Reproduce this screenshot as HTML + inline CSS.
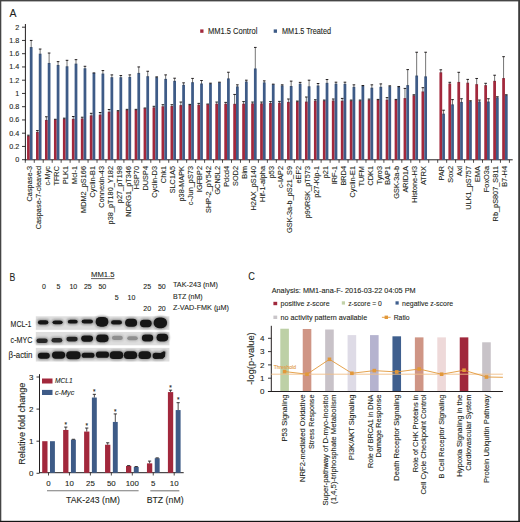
<!DOCTYPE html>
<html><head><meta charset="utf-8"><style>
html,body{margin:0;padding:0;background:#fff;width:520px;height:522px;overflow:hidden}
svg{display:block;font-family:"Liberation Sans", sans-serif}
text{stroke-width:0.1px}
</style></head><body>
<svg width="520" height="522" viewBox="0 0 520 522">
<rect width="520" height="522" fill="#fff"/>
<text x="9.50" y="16.60" font-size="11" text-anchor="start" fill="#231f20" stroke="#231f20" textLength="7.00" lengthAdjust="spacingAndGlyphs" >A</text>
<line x1="25.40" y1="24.00" x2="25.40" y2="160.30" stroke="#231f20" stroke-width="1"/>
<line x1="22.00" y1="159.70" x2="25.40" y2="159.70" stroke="#231f20" stroke-width="0.9"/>
<text x="19.20" y="162.20" font-size="7.2" text-anchor="end" fill="#231f20" stroke="#231f20" >0</text>
<line x1="22.00" y1="146.45" x2="25.40" y2="146.45" stroke="#231f20" stroke-width="0.9"/>
<text x="19.20" y="148.95" font-size="7.2" text-anchor="end" fill="#231f20" stroke="#231f20" >0.2</text>
<line x1="22.00" y1="133.20" x2="25.40" y2="133.20" stroke="#231f20" stroke-width="0.9"/>
<text x="19.20" y="135.70" font-size="7.2" text-anchor="end" fill="#231f20" stroke="#231f20" >0.4</text>
<line x1="22.00" y1="119.95" x2="25.40" y2="119.95" stroke="#231f20" stroke-width="0.9"/>
<text x="19.20" y="122.45" font-size="7.2" text-anchor="end" fill="#231f20" stroke="#231f20" >0.6</text>
<line x1="22.00" y1="106.70" x2="25.40" y2="106.70" stroke="#231f20" stroke-width="0.9"/>
<text x="19.20" y="109.20" font-size="7.2" text-anchor="end" fill="#231f20" stroke="#231f20" >0.8</text>
<line x1="22.00" y1="93.45" x2="25.40" y2="93.45" stroke="#231f20" stroke-width="0.9"/>
<text x="19.20" y="95.95" font-size="7.2" text-anchor="end" fill="#231f20" stroke="#231f20" >1</text>
<line x1="22.00" y1="80.20" x2="25.40" y2="80.20" stroke="#231f20" stroke-width="0.9"/>
<text x="19.20" y="82.70" font-size="7.2" text-anchor="end" fill="#231f20" stroke="#231f20" >1.2</text>
<line x1="22.00" y1="66.95" x2="25.40" y2="66.95" stroke="#231f20" stroke-width="0.9"/>
<text x="19.20" y="69.45" font-size="7.2" text-anchor="end" fill="#231f20" stroke="#231f20" >1.4</text>
<line x1="22.00" y1="53.70" x2="25.40" y2="53.70" stroke="#231f20" stroke-width="0.9"/>
<text x="19.20" y="56.20" font-size="7.2" text-anchor="end" fill="#231f20" stroke="#231f20" >1.6</text>
<line x1="22.00" y1="40.45" x2="25.40" y2="40.45" stroke="#231f20" stroke-width="0.9"/>
<text x="19.20" y="42.95" font-size="7.2" text-anchor="end" fill="#231f20" stroke="#231f20" >1.8</text>
<line x1="22.00" y1="27.20" x2="25.40" y2="27.20" stroke="#231f20" stroke-width="0.9"/>
<text x="19.20" y="29.70" font-size="7.2" text-anchor="end" fill="#231f20" stroke="#231f20" >2</text>
<line x1="24.90" y1="159.80" x2="512.70" y2="159.80" stroke="#231f20" stroke-width="1"/>
<line x1="25.30" y1="159.80" x2="25.30" y2="162.80" stroke="#231f20" stroke-width="0.8"/>
<line x1="34.27" y1="159.80" x2="34.27" y2="162.80" stroke="#231f20" stroke-width="0.8"/>
<line x1="43.23" y1="159.80" x2="43.23" y2="162.80" stroke="#231f20" stroke-width="0.8"/>
<line x1="52.20" y1="159.80" x2="52.20" y2="162.80" stroke="#231f20" stroke-width="0.8"/>
<line x1="61.16" y1="159.80" x2="61.16" y2="162.80" stroke="#231f20" stroke-width="0.8"/>
<line x1="70.12" y1="159.80" x2="70.12" y2="162.80" stroke="#231f20" stroke-width="0.8"/>
<line x1="79.09" y1="159.80" x2="79.09" y2="162.80" stroke="#231f20" stroke-width="0.8"/>
<line x1="88.05" y1="159.80" x2="88.05" y2="162.80" stroke="#231f20" stroke-width="0.8"/>
<line x1="97.02" y1="159.80" x2="97.02" y2="162.80" stroke="#231f20" stroke-width="0.8"/>
<line x1="105.98" y1="159.80" x2="105.98" y2="162.80" stroke="#231f20" stroke-width="0.8"/>
<line x1="114.95" y1="159.80" x2="114.95" y2="162.80" stroke="#231f20" stroke-width="0.8"/>
<line x1="123.91" y1="159.80" x2="123.91" y2="162.80" stroke="#231f20" stroke-width="0.8"/>
<line x1="132.88" y1="159.80" x2="132.88" y2="162.80" stroke="#231f20" stroke-width="0.8"/>
<line x1="141.84" y1="159.80" x2="141.84" y2="162.80" stroke="#231f20" stroke-width="0.8"/>
<line x1="150.81" y1="159.80" x2="150.81" y2="162.80" stroke="#231f20" stroke-width="0.8"/>
<line x1="159.78" y1="159.80" x2="159.78" y2="162.80" stroke="#231f20" stroke-width="0.8"/>
<line x1="168.74" y1="159.80" x2="168.74" y2="162.80" stroke="#231f20" stroke-width="0.8"/>
<line x1="177.71" y1="159.80" x2="177.71" y2="162.80" stroke="#231f20" stroke-width="0.8"/>
<line x1="186.67" y1="159.80" x2="186.67" y2="162.80" stroke="#231f20" stroke-width="0.8"/>
<line x1="195.64" y1="159.80" x2="195.64" y2="162.80" stroke="#231f20" stroke-width="0.8"/>
<line x1="204.60" y1="159.80" x2="204.60" y2="162.80" stroke="#231f20" stroke-width="0.8"/>
<line x1="213.56" y1="159.80" x2="213.56" y2="162.80" stroke="#231f20" stroke-width="0.8"/>
<line x1="222.53" y1="159.80" x2="222.53" y2="162.80" stroke="#231f20" stroke-width="0.8"/>
<line x1="231.50" y1="159.80" x2="231.50" y2="162.80" stroke="#231f20" stroke-width="0.8"/>
<line x1="240.46" y1="159.80" x2="240.46" y2="162.80" stroke="#231f20" stroke-width="0.8"/>
<line x1="249.43" y1="159.80" x2="249.43" y2="162.80" stroke="#231f20" stroke-width="0.8"/>
<line x1="258.39" y1="159.80" x2="258.39" y2="162.80" stroke="#231f20" stroke-width="0.8"/>
<line x1="267.36" y1="159.80" x2="267.36" y2="162.80" stroke="#231f20" stroke-width="0.8"/>
<line x1="276.32" y1="159.80" x2="276.32" y2="162.80" stroke="#231f20" stroke-width="0.8"/>
<line x1="285.29" y1="159.80" x2="285.29" y2="162.80" stroke="#231f20" stroke-width="0.8"/>
<line x1="294.25" y1="159.80" x2="294.25" y2="162.80" stroke="#231f20" stroke-width="0.8"/>
<line x1="303.22" y1="159.80" x2="303.22" y2="162.80" stroke="#231f20" stroke-width="0.8"/>
<line x1="312.18" y1="159.80" x2="312.18" y2="162.80" stroke="#231f20" stroke-width="0.8"/>
<line x1="321.14" y1="159.80" x2="321.14" y2="162.80" stroke="#231f20" stroke-width="0.8"/>
<line x1="330.11" y1="159.80" x2="330.11" y2="162.80" stroke="#231f20" stroke-width="0.8"/>
<line x1="339.07" y1="159.80" x2="339.07" y2="162.80" stroke="#231f20" stroke-width="0.8"/>
<line x1="348.04" y1="159.80" x2="348.04" y2="162.80" stroke="#231f20" stroke-width="0.8"/>
<line x1="357.00" y1="159.80" x2="357.00" y2="162.80" stroke="#231f20" stroke-width="0.8"/>
<line x1="365.97" y1="159.80" x2="365.97" y2="162.80" stroke="#231f20" stroke-width="0.8"/>
<line x1="374.94" y1="159.80" x2="374.94" y2="162.80" stroke="#231f20" stroke-width="0.8"/>
<line x1="383.90" y1="159.80" x2="383.90" y2="162.80" stroke="#231f20" stroke-width="0.8"/>
<line x1="392.87" y1="159.80" x2="392.87" y2="162.80" stroke="#231f20" stroke-width="0.8"/>
<line x1="401.83" y1="159.80" x2="401.83" y2="162.80" stroke="#231f20" stroke-width="0.8"/>
<line x1="410.80" y1="159.80" x2="410.80" y2="162.80" stroke="#231f20" stroke-width="0.8"/>
<line x1="419.76" y1="159.80" x2="419.76" y2="162.80" stroke="#231f20" stroke-width="0.8"/>
<line x1="428.73" y1="159.80" x2="428.73" y2="162.80" stroke="#231f20" stroke-width="0.8"/>
<line x1="437.69" y1="159.80" x2="437.69" y2="162.80" stroke="#231f20" stroke-width="0.8"/>
<line x1="446.66" y1="159.80" x2="446.66" y2="162.80" stroke="#231f20" stroke-width="0.8"/>
<line x1="455.62" y1="159.80" x2="455.62" y2="162.80" stroke="#231f20" stroke-width="0.8"/>
<line x1="464.58" y1="159.80" x2="464.58" y2="162.80" stroke="#231f20" stroke-width="0.8"/>
<line x1="473.55" y1="159.80" x2="473.55" y2="162.80" stroke="#231f20" stroke-width="0.8"/>
<line x1="482.51" y1="159.80" x2="482.51" y2="162.80" stroke="#231f20" stroke-width="0.8"/>
<line x1="491.48" y1="159.80" x2="491.48" y2="162.80" stroke="#231f20" stroke-width="0.8"/>
<line x1="500.44" y1="159.80" x2="500.44" y2="162.80" stroke="#231f20" stroke-width="0.8"/>
<line x1="509.41" y1="159.80" x2="509.41" y2="162.80" stroke="#231f20" stroke-width="0.8"/>
<rect x="27.05" y="135.85" width="2.75" height="23.95" fill="#a2283c" />
<rect x="29.80" y="47.07" width="2.75" height="112.72" fill="#3e5b87" />
<line x1="28.43" y1="136.85" x2="28.43" y2="135.19" stroke="#3a3a3a" stroke-width="0.7"/>
<line x1="27.12" y1="135.19" x2="29.73" y2="135.19" stroke="#231f20" stroke-width="1.0"/>
<line x1="31.18" y1="48.07" x2="31.18" y2="40.45" stroke="#3a3a3a" stroke-width="0.7"/>
<line x1="29.88" y1="40.45" x2="32.48" y2="40.45" stroke="#231f20" stroke-width="1.0"/>
<text x="31.88" y="166.00" font-size="7.35" text-anchor="end" fill="#231f20" stroke="#231f20" transform="rotate(-90 31.88 166.00)">Caspase-3</text>
<rect x="36.02" y="131.88" width="2.75" height="27.92" fill="#a2283c" />
<rect x="38.77" y="53.70" width="2.75" height="106.10" fill="#3e5b87" />
<line x1="37.39" y1="132.88" x2="37.39" y2="130.55" stroke="#3a3a3a" stroke-width="0.7"/>
<line x1="36.09" y1="130.55" x2="38.69" y2="130.55" stroke="#231f20" stroke-width="1.0"/>
<line x1="40.14" y1="54.70" x2="40.14" y2="49.06" stroke="#3a3a3a" stroke-width="0.7"/>
<line x1="38.84" y1="49.06" x2="41.44" y2="49.06" stroke="#231f20" stroke-width="1.0"/>
<text x="40.85" y="166.00" font-size="7.35" text-anchor="end" fill="#231f20" stroke="#231f20" transform="rotate(-90 40.85 166.00)">Caspase-7-cleaved</text>
<rect x="44.98" y="119.95" width="2.75" height="39.85" fill="#a2283c" />
<rect x="47.73" y="62.97" width="2.75" height="96.82" fill="#3e5b87" />
<line x1="46.36" y1="120.95" x2="46.36" y2="116.77" stroke="#3a3a3a" stroke-width="0.7"/>
<line x1="45.06" y1="116.77" x2="47.66" y2="116.77" stroke="#231f20" stroke-width="1.0"/>
<line x1="49.11" y1="63.97" x2="49.11" y2="53.04" stroke="#3a3a3a" stroke-width="0.7"/>
<line x1="47.81" y1="53.04" x2="50.41" y2="53.04" stroke="#231f20" stroke-width="1.0"/>
<text x="49.81" y="166.00" font-size="7.35" text-anchor="end" fill="#231f20" stroke="#231f20" transform="rotate(-90 49.81 166.00)">c-Myc</text>
<rect x="53.95" y="119.42" width="2.75" height="40.38" fill="#a2283c" />
<rect x="56.70" y="64.96" width="2.75" height="94.84" fill="#3e5b87" />
<line x1="54.02" y1="119.29" x2="56.62" y2="119.29" stroke="#231f20" stroke-width="1.0"/>
<line x1="58.07" y1="65.96" x2="58.07" y2="61.65" stroke="#3a3a3a" stroke-width="0.7"/>
<line x1="56.77" y1="61.65" x2="59.37" y2="61.65" stroke="#231f20" stroke-width="1.0"/>
<text x="58.78" y="166.00" font-size="7.35" text-anchor="end" fill="#231f20" stroke="#231f20" transform="rotate(-90 58.78 166.00)">TFRC</text>
<rect x="62.91" y="118.69" width="2.75" height="41.11" fill="#a2283c" />
<rect x="65.66" y="66.29" width="2.75" height="93.51" fill="#3e5b87" />
<line x1="64.28" y1="119.69" x2="64.28" y2="118.16" stroke="#3a3a3a" stroke-width="0.7"/>
<line x1="62.98" y1="118.16" x2="65.58" y2="118.16" stroke="#231f20" stroke-width="1.0"/>
<line x1="67.03" y1="67.29" x2="67.03" y2="60.32" stroke="#3a3a3a" stroke-width="0.7"/>
<line x1="65.73" y1="60.32" x2="68.33" y2="60.32" stroke="#231f20" stroke-width="1.0"/>
<text x="67.74" y="166.00" font-size="7.35" text-anchor="end" fill="#231f20" stroke="#231f20" transform="rotate(-90 67.74 166.00)">PLK1</text>
<rect x="71.88" y="118.89" width="2.75" height="40.91" fill="#a2283c" />
<rect x="74.62" y="63.64" width="2.75" height="96.16" fill="#3e5b87" />
<line x1="73.25" y1="119.89" x2="73.25" y2="116.50" stroke="#3a3a3a" stroke-width="0.7"/>
<line x1="71.95" y1="116.50" x2="74.55" y2="116.50" stroke="#231f20" stroke-width="1.0"/>
<line x1="76.00" y1="64.64" x2="76.00" y2="59.66" stroke="#3a3a3a" stroke-width="0.7"/>
<line x1="74.70" y1="59.66" x2="77.30" y2="59.66" stroke="#231f20" stroke-width="1.0"/>
<text x="76.71" y="166.00" font-size="7.35" text-anchor="end" fill="#231f20" stroke="#231f20" transform="rotate(-90 76.71 166.00)">Mcl-1</text>
<rect x="80.84" y="118.49" width="2.75" height="41.31" fill="#a2283c" />
<rect x="83.59" y="68.27" width="2.75" height="91.52" fill="#3e5b87" />
<line x1="82.22" y1="119.49" x2="82.22" y2="117.23" stroke="#3a3a3a" stroke-width="0.7"/>
<line x1="80.92" y1="117.23" x2="83.52" y2="117.23" stroke="#231f20" stroke-width="1.0"/>
<line x1="84.97" y1="69.27" x2="84.97" y2="66.29" stroke="#3a3a3a" stroke-width="0.7"/>
<line x1="83.67" y1="66.29" x2="86.27" y2="66.29" stroke="#231f20" stroke-width="1.0"/>
<text x="85.67" y="166.00" font-size="7.35" text-anchor="end" fill="#231f20" stroke="#231f20" transform="rotate(-90 85.67 166.00)">MDM2_pS166</text>
<rect x="89.80" y="115.38" width="2.75" height="44.42" fill="#a2283c" />
<rect x="92.55" y="72.91" width="2.75" height="86.89" fill="#3e5b87" />
<line x1="91.18" y1="116.38" x2="91.18" y2="113.32" stroke="#3a3a3a" stroke-width="0.7"/>
<line x1="89.88" y1="113.32" x2="92.48" y2="113.32" stroke="#231f20" stroke-width="1.0"/>
<line x1="92.63" y1="72.91" x2="95.23" y2="72.91" stroke="#231f20" stroke-width="1.0"/>
<text x="94.64" y="166.00" font-size="7.35" text-anchor="end" fill="#231f20" stroke="#231f20" transform="rotate(-90 94.64 166.00)">Cyclin-B1</text>
<rect x="98.77" y="114.65" width="2.75" height="45.15" fill="#a2283c" />
<rect x="101.52" y="73.57" width="2.75" height="86.22" fill="#3e5b87" />
<line x1="100.14" y1="115.65" x2="100.14" y2="112.53" stroke="#3a3a3a" stroke-width="0.7"/>
<line x1="98.84" y1="112.53" x2="101.44" y2="112.53" stroke="#231f20" stroke-width="1.0"/>
<line x1="102.89" y1="74.57" x2="102.89" y2="70.59" stroke="#3a3a3a" stroke-width="0.7"/>
<line x1="101.59" y1="70.59" x2="104.19" y2="70.59" stroke="#231f20" stroke-width="1.0"/>
<text x="103.60" y="166.00" font-size="7.35" text-anchor="end" fill="#231f20" stroke="#231f20" transform="rotate(-90 103.60 166.00)">Connexin-43</text>
<rect x="107.73" y="111.73" width="2.75" height="48.06" fill="#a2283c" />
<rect x="110.48" y="77.22" width="2.75" height="82.58" fill="#3e5b87" />
<line x1="109.11" y1="112.73" x2="109.11" y2="109.48" stroke="#3a3a3a" stroke-width="0.7"/>
<line x1="107.81" y1="109.48" x2="110.41" y2="109.48" stroke="#231f20" stroke-width="1.0"/>
<line x1="111.86" y1="78.22" x2="111.86" y2="74.90" stroke="#3a3a3a" stroke-width="0.7"/>
<line x1="110.56" y1="74.90" x2="113.16" y2="74.90" stroke="#231f20" stroke-width="1.0"/>
<text x="112.57" y="166.00" font-size="7.35" text-anchor="end" fill="#231f20" stroke="#231f20" transform="rotate(-90 112.57 166.00)">p38_pT180_Y182</text>
<rect x="116.70" y="111.14" width="2.75" height="48.66" fill="#a2283c" />
<rect x="119.45" y="77.22" width="2.75" height="82.58" fill="#3e5b87" />
<line x1="118.08" y1="112.14" x2="118.08" y2="110.67" stroke="#3a3a3a" stroke-width="0.7"/>
<line x1="116.78" y1="110.67" x2="119.38" y2="110.67" stroke="#231f20" stroke-width="1.0"/>
<line x1="120.83" y1="78.22" x2="120.83" y2="75.56" stroke="#3a3a3a" stroke-width="0.7"/>
<line x1="119.53" y1="75.56" x2="122.12" y2="75.56" stroke="#231f20" stroke-width="1.0"/>
<text x="121.53" y="166.00" font-size="7.35" text-anchor="end" fill="#231f20" stroke="#231f20" transform="rotate(-90 121.53 166.00)">p27_pT198</text>
<rect x="125.66" y="109.88" width="2.75" height="49.92" fill="#a2283c" />
<rect x="128.41" y="76.89" width="2.75" height="82.91" fill="#3e5b87" />
<line x1="127.04" y1="110.88" x2="127.04" y2="109.35" stroke="#3a3a3a" stroke-width="0.7"/>
<line x1="125.74" y1="109.35" x2="128.34" y2="109.35" stroke="#231f20" stroke-width="1.0"/>
<line x1="129.79" y1="77.89" x2="129.79" y2="74.90" stroke="#3a3a3a" stroke-width="0.7"/>
<line x1="128.49" y1="74.90" x2="131.09" y2="74.90" stroke="#231f20" stroke-width="1.0"/>
<text x="130.50" y="166.00" font-size="7.35" text-anchor="end" fill="#231f20" stroke="#231f20" transform="rotate(-90 130.50 166.00)">NDRG1_pT346</text>
<rect x="134.63" y="109.75" width="2.75" height="50.05" fill="#a2283c" />
<rect x="137.38" y="72.91" width="2.75" height="86.89" fill="#3e5b87" />
<line x1="136.00" y1="110.75" x2="136.00" y2="109.35" stroke="#3a3a3a" stroke-width="0.7"/>
<line x1="134.70" y1="109.35" x2="137.31" y2="109.35" stroke="#231f20" stroke-width="1.0"/>
<line x1="138.75" y1="73.91" x2="138.75" y2="66.95" stroke="#3a3a3a" stroke-width="0.7"/>
<line x1="137.45" y1="66.95" x2="140.06" y2="66.95" stroke="#231f20" stroke-width="1.0"/>
<text x="139.46" y="166.00" font-size="7.35" text-anchor="end" fill="#231f20" stroke="#231f20" transform="rotate(-90 139.46 166.00)">HSP70</text>
<rect x="143.59" y="108.22" width="2.75" height="51.58" fill="#a2283c" />
<rect x="146.34" y="76.22" width="2.75" height="83.57" fill="#3e5b87" />
<line x1="143.67" y1="108.02" x2="146.27" y2="108.02" stroke="#231f20" stroke-width="1.0"/>
<line x1="147.72" y1="77.22" x2="147.72" y2="71.26" stroke="#3a3a3a" stroke-width="0.7"/>
<line x1="146.42" y1="71.26" x2="149.02" y2="71.26" stroke="#231f20" stroke-width="1.0"/>
<text x="148.43" y="166.00" font-size="7.35" text-anchor="end" fill="#231f20" stroke="#231f20" transform="rotate(-90 148.43 166.00)">DUSP4</text>
<rect x="152.56" y="107.36" width="2.75" height="52.44" fill="#a2283c" />
<rect x="155.31" y="77.22" width="2.75" height="82.58" fill="#3e5b87" />
<line x1="153.94" y1="108.36" x2="153.94" y2="106.30" stroke="#3a3a3a" stroke-width="0.7"/>
<line x1="152.63" y1="106.30" x2="155.24" y2="106.30" stroke="#231f20" stroke-width="1.0"/>
<line x1="156.69" y1="78.22" x2="156.69" y2="76.89" stroke="#3a3a3a" stroke-width="0.7"/>
<line x1="155.38" y1="76.89" x2="157.99" y2="76.89" stroke="#231f20" stroke-width="1.0"/>
<text x="157.39" y="166.00" font-size="7.35" text-anchor="end" fill="#231f20" stroke="#231f20" transform="rotate(-90 157.39 166.00)">Cyclin-D3</text>
<rect x="161.53" y="106.30" width="2.75" height="53.50" fill="#a2283c" />
<rect x="164.28" y="78.87" width="2.75" height="80.92" fill="#3e5b87" />
<line x1="162.90" y1="107.30" x2="162.90" y2="104.71" stroke="#3a3a3a" stroke-width="0.7"/>
<line x1="161.60" y1="104.71" x2="164.20" y2="104.71" stroke="#231f20" stroke-width="1.0"/>
<line x1="165.65" y1="79.87" x2="165.65" y2="74.90" stroke="#3a3a3a" stroke-width="0.7"/>
<line x1="164.35" y1="74.90" x2="166.95" y2="74.90" stroke="#231f20" stroke-width="1.0"/>
<text x="166.36" y="166.00" font-size="7.35" text-anchor="end" fill="#231f20" stroke="#231f20" transform="rotate(-90 166.36 166.00)">Chk1</text>
<rect x="170.49" y="106.04" width="2.75" height="53.76" fill="#a2283c" />
<rect x="173.24" y="80.86" width="2.75" height="78.94" fill="#3e5b87" />
<line x1="171.87" y1="107.04" x2="171.87" y2="104.71" stroke="#3a3a3a" stroke-width="0.7"/>
<line x1="170.56" y1="104.71" x2="173.17" y2="104.71" stroke="#231f20" stroke-width="1.0"/>
<line x1="174.62" y1="81.86" x2="174.62" y2="78.21" stroke="#3a3a3a" stroke-width="0.7"/>
<line x1="173.31" y1="78.21" x2="175.92" y2="78.21" stroke="#231f20" stroke-width="1.0"/>
<text x="175.32" y="166.00" font-size="7.35" text-anchor="end" fill="#231f20" stroke="#231f20" transform="rotate(-90 175.32 166.00)">SLC1A5</text>
<rect x="179.46" y="105.11" width="2.75" height="54.69" fill="#a2283c" />
<rect x="182.21" y="84.84" width="2.75" height="74.96" fill="#3e5b87" />
<line x1="180.83" y1="106.11" x2="180.83" y2="102.06" stroke="#3a3a3a" stroke-width="0.7"/>
<line x1="179.53" y1="102.06" x2="182.13" y2="102.06" stroke="#231f20" stroke-width="1.0"/>
<line x1="183.58" y1="85.84" x2="183.58" y2="82.85" stroke="#3a3a3a" stroke-width="0.7"/>
<line x1="182.28" y1="82.85" x2="184.88" y2="82.85" stroke="#231f20" stroke-width="1.0"/>
<text x="184.29" y="166.00" font-size="7.35" text-anchor="end" fill="#231f20" stroke="#231f20" transform="rotate(-90 184.29 166.00)">p38-MAPK</text>
<rect x="188.42" y="104.71" width="2.75" height="55.09" fill="#a2283c" />
<rect x="191.17" y="82.19" width="2.75" height="77.61" fill="#3e5b87" />
<line x1="189.80" y1="105.71" x2="189.80" y2="104.38" stroke="#3a3a3a" stroke-width="0.7"/>
<line x1="188.50" y1="104.38" x2="191.10" y2="104.38" stroke="#231f20" stroke-width="1.0"/>
<line x1="192.55" y1="83.19" x2="192.55" y2="78.41" stroke="#3a3a3a" stroke-width="0.7"/>
<line x1="191.25" y1="78.41" x2="193.85" y2="78.41" stroke="#231f20" stroke-width="1.0"/>
<text x="193.25" y="166.00" font-size="7.35" text-anchor="end" fill="#231f20" stroke="#231f20" transform="rotate(-90 193.25 166.00)">c-Jun_pS73</text>
<rect x="197.39" y="104.71" width="2.75" height="55.09" fill="#a2283c" />
<rect x="200.14" y="83.51" width="2.75" height="76.29" fill="#3e5b87" />
<line x1="198.76" y1="105.71" x2="198.76" y2="103.39" stroke="#3a3a3a" stroke-width="0.7"/>
<line x1="197.46" y1="103.39" x2="200.06" y2="103.39" stroke="#231f20" stroke-width="1.0"/>
<line x1="201.51" y1="84.51" x2="201.51" y2="80.53" stroke="#3a3a3a" stroke-width="0.7"/>
<line x1="200.21" y1="80.53" x2="202.81" y2="80.53" stroke="#231f20" stroke-width="1.0"/>
<text x="202.22" y="166.00" font-size="7.35" text-anchor="end" fill="#231f20" stroke="#231f20" transform="rotate(-90 202.22 166.00)">IGFBP2</text>
<rect x="206.35" y="104.25" width="2.75" height="55.55" fill="#a2283c" />
<rect x="209.10" y="83.51" width="2.75" height="76.29" fill="#3e5b87" />
<line x1="206.43" y1="104.05" x2="209.03" y2="104.05" stroke="#231f20" stroke-width="1.0"/>
<line x1="210.48" y1="84.51" x2="210.48" y2="83.18" stroke="#3a3a3a" stroke-width="0.7"/>
<line x1="209.18" y1="83.18" x2="211.78" y2="83.18" stroke="#231f20" stroke-width="1.0"/>
<text x="211.18" y="166.00" font-size="7.35" text-anchor="end" fill="#231f20" stroke="#231f20" transform="rotate(-90 211.18 166.00)">SHP-2_pY542</text>
<rect x="215.31" y="103.72" width="2.75" height="56.08" fill="#a2283c" />
<rect x="218.06" y="82.39" width="2.75" height="77.41" fill="#3e5b87" />
<line x1="216.69" y1="104.72" x2="216.69" y2="102.06" stroke="#3a3a3a" stroke-width="0.7"/>
<line x1="215.39" y1="102.06" x2="217.99" y2="102.06" stroke="#231f20" stroke-width="1.0"/>
<line x1="218.14" y1="82.19" x2="220.74" y2="82.19" stroke="#231f20" stroke-width="1.0"/>
<text x="220.15" y="166.00" font-size="7.35" text-anchor="end" fill="#231f20" stroke="#231f20" transform="rotate(-90 220.15 166.00)">GCN5L2</text>
<rect x="224.28" y="103.72" width="2.75" height="56.08" fill="#a2283c" />
<rect x="227.03" y="78.41" width="2.75" height="81.39" fill="#3e5b87" />
<line x1="225.66" y1="104.72" x2="225.66" y2="102.39" stroke="#3a3a3a" stroke-width="0.7"/>
<line x1="224.35" y1="102.39" x2="226.96" y2="102.39" stroke="#231f20" stroke-width="1.0"/>
<line x1="228.41" y1="79.41" x2="228.41" y2="72.25" stroke="#3a3a3a" stroke-width="0.7"/>
<line x1="227.10" y1="72.25" x2="229.71" y2="72.25" stroke="#231f20" stroke-width="1.0"/>
<text x="229.11" y="166.00" font-size="7.35" text-anchor="end" fill="#231f20" stroke="#231f20" transform="rotate(-90 229.11 166.00)">Pdcd4</text>
<rect x="233.25" y="103.85" width="2.75" height="55.95" fill="#a2283c" />
<rect x="236.00" y="86.43" width="2.75" height="73.37" fill="#3e5b87" />
<line x1="234.62" y1="104.85" x2="234.62" y2="94.44" stroke="#3a3a3a" stroke-width="0.7"/>
<line x1="233.32" y1="94.44" x2="235.92" y2="94.44" stroke="#231f20" stroke-width="1.0"/>
<line x1="237.37" y1="87.43" x2="237.37" y2="84.84" stroke="#3a3a3a" stroke-width="0.7"/>
<line x1="236.07" y1="84.84" x2="238.67" y2="84.84" stroke="#231f20" stroke-width="1.0"/>
<text x="238.08" y="166.00" font-size="7.35" text-anchor="end" fill="#231f20" stroke="#231f20" transform="rotate(-90 238.08 166.00)">SOD2</text>
<rect x="242.21" y="103.72" width="2.75" height="56.08" fill="#a2283c" />
<rect x="244.96" y="81.52" width="2.75" height="78.27" fill="#3e5b87" />
<line x1="243.59" y1="104.72" x2="243.59" y2="101.60" stroke="#3a3a3a" stroke-width="0.7"/>
<line x1="242.28" y1="101.60" x2="244.89" y2="101.60" stroke="#231f20" stroke-width="1.0"/>
<line x1="246.34" y1="82.52" x2="246.34" y2="80.20" stroke="#3a3a3a" stroke-width="0.7"/>
<line x1="245.03" y1="80.20" x2="247.64" y2="80.20" stroke="#231f20" stroke-width="1.0"/>
<text x="247.04" y="166.00" font-size="7.35" text-anchor="end" fill="#231f20" stroke="#231f20" transform="rotate(-90 247.04 166.00)">Bim</text>
<rect x="251.18" y="103.39" width="2.75" height="56.41" fill="#a2283c" />
<rect x="253.93" y="68.47" width="2.75" height="91.33" fill="#3e5b87" />
<line x1="252.55" y1="104.39" x2="252.55" y2="102.06" stroke="#3a3a3a" stroke-width="0.7"/>
<line x1="251.25" y1="102.06" x2="253.85" y2="102.06" stroke="#231f20" stroke-width="1.0"/>
<line x1="255.30" y1="69.47" x2="255.30" y2="47.41" stroke="#3a3a3a" stroke-width="0.7"/>
<line x1="254.00" y1="47.41" x2="256.60" y2="47.41" stroke="#231f20" stroke-width="1.0"/>
<text x="256.01" y="166.00" font-size="7.35" text-anchor="end" fill="#231f20" stroke="#231f20" transform="rotate(-90 256.01 166.00)">H2AX_pS140</text>
<rect x="260.14" y="103.39" width="2.75" height="56.41" fill="#a2283c" />
<rect x="262.89" y="82.39" width="2.75" height="77.41" fill="#3e5b87" />
<line x1="261.51" y1="104.39" x2="261.51" y2="102.06" stroke="#3a3a3a" stroke-width="0.7"/>
<line x1="260.21" y1="102.06" x2="262.81" y2="102.06" stroke="#231f20" stroke-width="1.0"/>
<line x1="264.26" y1="83.39" x2="264.26" y2="80.86" stroke="#3a3a3a" stroke-width="0.7"/>
<line x1="262.96" y1="80.86" x2="265.56" y2="80.86" stroke="#231f20" stroke-width="1.0"/>
<text x="264.97" y="166.00" font-size="7.35" text-anchor="end" fill="#231f20" stroke="#231f20" transform="rotate(-90 264.97 166.00)">Hif-1-alpha</text>
<rect x="269.11" y="102.99" width="2.75" height="56.81" fill="#a2283c" />
<rect x="271.86" y="84.31" width="2.75" height="75.49" fill="#3e5b87" />
<line x1="270.48" y1="103.99" x2="270.48" y2="101.60" stroke="#3a3a3a" stroke-width="0.7"/>
<line x1="269.18" y1="101.60" x2="271.78" y2="101.60" stroke="#231f20" stroke-width="1.0"/>
<line x1="271.93" y1="84.17" x2="274.53" y2="84.17" stroke="#231f20" stroke-width="1.0"/>
<text x="273.94" y="166.00" font-size="7.35" text-anchor="end" fill="#231f20" stroke="#231f20" transform="rotate(-90 273.94 166.00)">p53</text>
<rect x="278.07" y="102.72" width="2.75" height="57.07" fill="#a2283c" />
<rect x="280.82" y="85.50" width="2.75" height="74.30" fill="#3e5b87" />
<line x1="279.44" y1="103.72" x2="279.44" y2="101.40" stroke="#3a3a3a" stroke-width="0.7"/>
<line x1="278.14" y1="101.40" x2="280.75" y2="101.40" stroke="#231f20" stroke-width="1.0"/>
<line x1="282.19" y1="86.50" x2="282.19" y2="84.84" stroke="#3a3a3a" stroke-width="0.7"/>
<line x1="280.89" y1="84.84" x2="283.50" y2="84.84" stroke="#231f20" stroke-width="1.0"/>
<text x="282.90" y="166.00" font-size="7.35" text-anchor="end" fill="#231f20" stroke="#231f20" transform="rotate(-90 282.90 166.00)">c-IAP2</text>
<rect x="287.04" y="101.93" width="2.75" height="57.87" fill="#a2283c" />
<rect x="289.79" y="86.03" width="2.75" height="73.77" fill="#3e5b87" />
<line x1="288.41" y1="102.93" x2="288.41" y2="99.01" stroke="#3a3a3a" stroke-width="0.7"/>
<line x1="287.11" y1="99.01" x2="289.71" y2="99.01" stroke="#231f20" stroke-width="1.0"/>
<line x1="291.16" y1="87.03" x2="291.16" y2="81.13" stroke="#3a3a3a" stroke-width="0.7"/>
<line x1="289.86" y1="81.13" x2="292.46" y2="81.13" stroke="#231f20" stroke-width="1.0"/>
<text x="291.87" y="166.00" font-size="7.35" text-anchor="end" fill="#231f20" stroke="#231f20" transform="rotate(-90 291.87 166.00)">GSK-3a-b_pS21_S9</text>
<rect x="296.00" y="101.40" width="2.75" height="58.40" fill="#a2283c" />
<rect x="298.75" y="83.71" width="2.75" height="76.09" fill="#3e5b87" />
<line x1="297.38" y1="102.40" x2="297.38" y2="101.07" stroke="#3a3a3a" stroke-width="0.7"/>
<line x1="296.07" y1="101.07" x2="298.68" y2="101.07" stroke="#231f20" stroke-width="1.0"/>
<line x1="300.12" y1="84.71" x2="300.12" y2="82.39" stroke="#3a3a3a" stroke-width="0.7"/>
<line x1="298.82" y1="82.39" x2="301.43" y2="82.39" stroke="#231f20" stroke-width="1.0"/>
<text x="300.83" y="166.00" font-size="7.35" text-anchor="end" fill="#231f20" stroke="#231f20" transform="rotate(-90 300.83 166.00)">eEF2</text>
<rect x="304.97" y="101.60" width="2.75" height="58.20" fill="#a2283c" />
<rect x="307.72" y="86.29" width="2.75" height="73.50" fill="#3e5b87" />
<line x1="306.34" y1="102.60" x2="306.34" y2="97.03" stroke="#3a3a3a" stroke-width="0.7"/>
<line x1="305.04" y1="97.03" x2="307.64" y2="97.03" stroke="#231f20" stroke-width="1.0"/>
<line x1="309.09" y1="87.29" x2="309.09" y2="80.20" stroke="#3a3a3a" stroke-width="0.7"/>
<line x1="307.79" y1="80.20" x2="310.39" y2="80.20" stroke="#231f20" stroke-width="1.0"/>
<text x="309.80" y="166.00" font-size="7.35" text-anchor="end" fill="#231f20" stroke="#231f20" transform="rotate(-90 309.80 166.00)">p90RSK_pT573</text>
<rect x="313.93" y="100.74" width="2.75" height="59.06" fill="#a2283c" />
<rect x="316.68" y="85.50" width="2.75" height="74.30" fill="#3e5b87" />
<line x1="315.31" y1="101.74" x2="315.31" y2="99.74" stroke="#3a3a3a" stroke-width="0.7"/>
<line x1="314.00" y1="99.74" x2="316.61" y2="99.74" stroke="#231f20" stroke-width="1.0"/>
<line x1="318.06" y1="86.50" x2="318.06" y2="83.51" stroke="#3a3a3a" stroke-width="0.7"/>
<line x1="316.75" y1="83.51" x2="319.36" y2="83.51" stroke="#231f20" stroke-width="1.0"/>
<text x="318.76" y="166.00" font-size="7.35" text-anchor="end" fill="#231f20" stroke="#231f20" transform="rotate(-90 318.76 166.00)">p27-Kip-1</text>
<rect x="322.89" y="100.54" width="2.75" height="59.26" fill="#a2283c" />
<rect x="325.64" y="82.85" width="2.75" height="76.95" fill="#3e5b87" />
<line x1="324.27" y1="101.54" x2="324.27" y2="100.07" stroke="#3a3a3a" stroke-width="0.7"/>
<line x1="322.97" y1="100.07" x2="325.57" y2="100.07" stroke="#231f20" stroke-width="1.0"/>
<line x1="327.02" y1="83.85" x2="327.02" y2="79.54" stroke="#3a3a3a" stroke-width="0.7"/>
<line x1="325.72" y1="79.54" x2="328.32" y2="79.54" stroke="#231f20" stroke-width="1.0"/>
<text x="327.73" y="166.00" font-size="7.35" text-anchor="end" fill="#231f20" stroke="#231f20" transform="rotate(-90 327.73 166.00)">p21</text>
<rect x="331.86" y="100.54" width="2.75" height="59.26" fill="#a2283c" />
<rect x="334.61" y="83.71" width="2.75" height="76.09" fill="#3e5b87" />
<line x1="333.24" y1="101.54" x2="333.24" y2="99.01" stroke="#3a3a3a" stroke-width="0.7"/>
<line x1="331.94" y1="99.01" x2="334.54" y2="99.01" stroke="#231f20" stroke-width="1.0"/>
<line x1="335.99" y1="84.71" x2="335.99" y2="82.19" stroke="#3a3a3a" stroke-width="0.7"/>
<line x1="334.69" y1="82.19" x2="337.29" y2="82.19" stroke="#231f20" stroke-width="1.0"/>
<text x="336.69" y="166.00" font-size="7.35" text-anchor="end" fill="#231f20" stroke="#231f20" transform="rotate(-90 336.69 166.00)">IRF-1</text>
<rect x="340.82" y="100.74" width="2.75" height="59.06" fill="#a2283c" />
<rect x="343.57" y="83.84" width="2.75" height="75.96" fill="#3e5b87" />
<line x1="342.20" y1="101.74" x2="342.20" y2="98.42" stroke="#3a3a3a" stroke-width="0.7"/>
<line x1="340.90" y1="98.42" x2="343.50" y2="98.42" stroke="#231f20" stroke-width="1.0"/>
<line x1="344.95" y1="84.84" x2="344.95" y2="82.19" stroke="#3a3a3a" stroke-width="0.7"/>
<line x1="343.65" y1="82.19" x2="346.25" y2="82.19" stroke="#231f20" stroke-width="1.0"/>
<text x="345.66" y="166.00" font-size="7.35" text-anchor="end" fill="#231f20" stroke="#231f20" transform="rotate(-90 345.66 166.00)">BRD4</text>
<rect x="349.79" y="100.54" width="2.75" height="59.26" fill="#a2283c" />
<rect x="352.54" y="86.82" width="2.75" height="72.97" fill="#3e5b87" />
<line x1="351.17" y1="101.54" x2="351.17" y2="100.07" stroke="#3a3a3a" stroke-width="0.7"/>
<line x1="349.87" y1="100.07" x2="352.47" y2="100.07" stroke="#231f20" stroke-width="1.0"/>
<line x1="353.92" y1="87.82" x2="353.92" y2="84.84" stroke="#3a3a3a" stroke-width="0.7"/>
<line x1="352.62" y1="84.84" x2="355.22" y2="84.84" stroke="#231f20" stroke-width="1.0"/>
<text x="354.62" y="166.00" font-size="7.35" text-anchor="end" fill="#231f20" stroke="#231f20" transform="rotate(-90 354.62 166.00)">Cyclin-E1</text>
<rect x="358.75" y="100.54" width="2.75" height="59.26" fill="#a2283c" />
<rect x="361.50" y="85.83" width="2.75" height="73.97" fill="#3e5b87" />
<line x1="360.13" y1="101.54" x2="360.13" y2="100.07" stroke="#3a3a3a" stroke-width="0.7"/>
<line x1="358.83" y1="100.07" x2="361.43" y2="100.07" stroke="#231f20" stroke-width="1.0"/>
<line x1="362.88" y1="86.83" x2="362.88" y2="85.50" stroke="#3a3a3a" stroke-width="0.7"/>
<line x1="361.58" y1="85.50" x2="364.18" y2="85.50" stroke="#231f20" stroke-width="1.0"/>
<text x="363.59" y="166.00" font-size="7.35" text-anchor="end" fill="#231f20" stroke="#231f20" transform="rotate(-90 363.59 166.00)">TUFM</text>
<rect x="367.72" y="99.74" width="2.75" height="60.06" fill="#a2283c" />
<rect x="370.47" y="87.69" width="2.75" height="72.11" fill="#3e5b87" />
<line x1="369.10" y1="100.74" x2="369.10" y2="99.08" stroke="#3a3a3a" stroke-width="0.7"/>
<line x1="367.80" y1="99.08" x2="370.40" y2="99.08" stroke="#231f20" stroke-width="1.0"/>
<line x1="371.85" y1="88.69" x2="371.85" y2="84.84" stroke="#3a3a3a" stroke-width="0.7"/>
<line x1="370.55" y1="84.84" x2="373.15" y2="84.84" stroke="#231f20" stroke-width="1.0"/>
<text x="372.55" y="166.00" font-size="7.35" text-anchor="end" fill="#231f20" stroke="#231f20" transform="rotate(-90 372.55 166.00)">CDK1</text>
<rect x="376.69" y="99.74" width="2.75" height="60.06" fill="#a2283c" />
<rect x="379.44" y="86.82" width="2.75" height="72.97" fill="#3e5b87" />
<line x1="378.06" y1="100.74" x2="378.06" y2="99.41" stroke="#3a3a3a" stroke-width="0.7"/>
<line x1="376.76" y1="99.41" x2="379.36" y2="99.41" stroke="#231f20" stroke-width="1.0"/>
<line x1="380.81" y1="87.82" x2="380.81" y2="83.91" stroke="#3a3a3a" stroke-width="0.7"/>
<line x1="379.51" y1="83.91" x2="382.11" y2="83.91" stroke="#231f20" stroke-width="1.0"/>
<text x="381.52" y="166.00" font-size="7.35" text-anchor="end" fill="#231f20" stroke="#231f20" transform="rotate(-90 381.52 166.00)">Tyro3</text>
<rect x="385.65" y="99.74" width="2.75" height="60.06" fill="#a2283c" />
<rect x="388.40" y="86.29" width="2.75" height="73.50" fill="#3e5b87" />
<line x1="387.03" y1="100.74" x2="387.03" y2="97.62" stroke="#3a3a3a" stroke-width="0.7"/>
<line x1="385.73" y1="97.62" x2="388.33" y2="97.62" stroke="#231f20" stroke-width="1.0"/>
<line x1="389.78" y1="87.29" x2="389.78" y2="85.83" stroke="#3a3a3a" stroke-width="0.7"/>
<line x1="388.48" y1="85.83" x2="391.08" y2="85.83" stroke="#231f20" stroke-width="1.0"/>
<text x="390.48" y="166.00" font-size="7.35" text-anchor="end" fill="#231f20" stroke="#231f20" transform="rotate(-90 390.48 166.00)">BAP1</text>
<rect x="394.62" y="99.74" width="2.75" height="60.06" fill="#a2283c" />
<rect x="397.37" y="86.82" width="2.75" height="72.97" fill="#3e5b87" />
<line x1="395.99" y1="100.74" x2="395.99" y2="99.41" stroke="#3a3a3a" stroke-width="0.7"/>
<line x1="394.69" y1="99.41" x2="397.29" y2="99.41" stroke="#231f20" stroke-width="1.0"/>
<line x1="398.74" y1="87.82" x2="398.74" y2="86.49" stroke="#3a3a3a" stroke-width="0.7"/>
<line x1="397.44" y1="86.49" x2="400.04" y2="86.49" stroke="#231f20" stroke-width="1.0"/>
<text x="399.45" y="166.00" font-size="7.35" text-anchor="end" fill="#231f20" stroke="#231f20" transform="rotate(-90 399.45 166.00)">GSK-3a-b</text>
<rect x="403.58" y="98.09" width="2.75" height="61.71" fill="#a2283c" />
<rect x="406.33" y="85.10" width="2.75" height="74.70" fill="#3e5b87" />
<line x1="404.95" y1="99.09" x2="404.95" y2="88.41" stroke="#3a3a3a" stroke-width="0.7"/>
<line x1="403.65" y1="88.41" x2="406.25" y2="88.41" stroke="#231f20" stroke-width="1.0"/>
<line x1="407.70" y1="86.10" x2="407.70" y2="69.60" stroke="#3a3a3a" stroke-width="0.7"/>
<line x1="406.40" y1="69.60" x2="409.00" y2="69.60" stroke="#231f20" stroke-width="1.0"/>
<text x="408.41" y="166.00" font-size="7.35" text-anchor="end" fill="#231f20" stroke="#231f20" transform="rotate(-90 408.41 166.00)">ARID1A</text>
<rect x="412.55" y="95.30" width="2.75" height="64.49" fill="#a2283c" />
<rect x="415.30" y="75.56" width="2.75" height="84.24" fill="#3e5b87" />
<line x1="413.92" y1="96.30" x2="413.92" y2="94.77" stroke="#3a3a3a" stroke-width="0.7"/>
<line x1="412.62" y1="94.77" x2="415.22" y2="94.77" stroke="#231f20" stroke-width="1.0"/>
<line x1="416.67" y1="76.56" x2="416.67" y2="52.24" stroke="#3a3a3a" stroke-width="0.7"/>
<line x1="415.37" y1="52.24" x2="417.97" y2="52.24" stroke="#231f20" stroke-width="1.0"/>
<text x="417.38" y="166.00" font-size="7.35" text-anchor="end" fill="#231f20" stroke="#231f20" transform="rotate(-90 417.38 166.00)">Histone-H3</text>
<rect x="421.51" y="91.46" width="2.75" height="68.34" fill="#a2283c" />
<rect x="424.26" y="76.36" width="2.75" height="83.44" fill="#3e5b87" />
<line x1="422.88" y1="92.46" x2="422.88" y2="87.69" stroke="#3a3a3a" stroke-width="0.7"/>
<line x1="421.58" y1="87.69" x2="424.19" y2="87.69" stroke="#231f20" stroke-width="1.0"/>
<line x1="425.63" y1="77.36" x2="425.63" y2="52.24" stroke="#3a3a3a" stroke-width="0.7"/>
<line x1="424.33" y1="52.24" x2="426.94" y2="52.24" stroke="#231f20" stroke-width="1.0"/>
<text x="426.34" y="166.00" font-size="7.35" text-anchor="end" fill="#231f20" stroke="#231f20" transform="rotate(-90 426.34 166.00)">ATRX</text>
<rect x="439.44" y="72.32" width="2.75" height="87.48" fill="#a2283c" />
<rect x="442.19" y="113.66" width="2.75" height="46.14" fill="#3e5b87" />
<line x1="440.81" y1="73.32" x2="440.81" y2="69.80" stroke="#3a3a3a" stroke-width="0.7"/>
<line x1="439.51" y1="69.80" x2="442.12" y2="69.80" stroke="#231f20" stroke-width="1.0"/>
<line x1="443.56" y1="114.66" x2="443.56" y2="110.21" stroke="#3a3a3a" stroke-width="0.7"/>
<line x1="442.26" y1="110.21" x2="444.87" y2="110.21" stroke="#231f20" stroke-width="1.0"/>
<text x="444.27" y="166.00" font-size="7.35" text-anchor="end" fill="#231f20" stroke="#231f20" transform="rotate(-90 444.27 166.00)">PAR</text>
<rect x="448.41" y="83.51" width="2.75" height="76.29" fill="#a2283c" />
<rect x="451.16" y="104.38" width="2.75" height="55.42" fill="#3e5b87" />
<line x1="449.78" y1="84.51" x2="449.78" y2="82.32" stroke="#3a3a3a" stroke-width="0.7"/>
<line x1="448.48" y1="82.32" x2="451.08" y2="82.32" stroke="#231f20" stroke-width="1.0"/>
<line x1="452.53" y1="105.38" x2="452.53" y2="99.61" stroke="#3a3a3a" stroke-width="0.7"/>
<line x1="451.23" y1="99.61" x2="453.83" y2="99.61" stroke="#231f20" stroke-width="1.0"/>
<text x="453.24" y="166.00" font-size="7.35" text-anchor="end" fill="#231f20" stroke="#231f20" transform="rotate(-90 453.24 166.00)">Sox2</text>
<rect x="457.37" y="81.92" width="2.75" height="77.88" fill="#a2283c" />
<rect x="460.12" y="101.93" width="2.75" height="57.87" fill="#3e5b87" />
<line x1="458.75" y1="82.92" x2="458.75" y2="72.32" stroke="#3a3a3a" stroke-width="0.7"/>
<line x1="457.44" y1="72.32" x2="460.05" y2="72.32" stroke="#231f20" stroke-width="1.0"/>
<line x1="461.50" y1="102.93" x2="461.50" y2="98.75" stroke="#3a3a3a" stroke-width="0.7"/>
<line x1="460.19" y1="98.75" x2="462.80" y2="98.75" stroke="#231f20" stroke-width="1.0"/>
<text x="462.20" y="166.00" font-size="7.35" text-anchor="end" fill="#231f20" stroke="#231f20" transform="rotate(-90 462.20 166.00)">Axl</text>
<rect x="466.33" y="82.72" width="2.75" height="77.08" fill="#a2283c" />
<rect x="469.08" y="101.20" width="2.75" height="58.60" fill="#3e5b87" />
<line x1="467.71" y1="83.72" x2="467.71" y2="79.40" stroke="#3a3a3a" stroke-width="0.7"/>
<line x1="466.41" y1="79.40" x2="469.01" y2="79.40" stroke="#231f20" stroke-width="1.0"/>
<line x1="470.46" y1="102.20" x2="470.46" y2="100.74" stroke="#3a3a3a" stroke-width="0.7"/>
<line x1="469.16" y1="100.74" x2="471.76" y2="100.74" stroke="#231f20" stroke-width="1.0"/>
<text x="471.17" y="166.00" font-size="7.35" text-anchor="end" fill="#231f20" stroke="#231f20" transform="rotate(-90 471.17 166.00)">ULK1_pS757</text>
<rect x="475.30" y="84.17" width="2.75" height="75.62" fill="#a2283c" />
<rect x="478.05" y="101.53" width="2.75" height="58.27" fill="#3e5b87" />
<line x1="476.68" y1="85.17" x2="476.68" y2="78.48" stroke="#3a3a3a" stroke-width="0.7"/>
<line x1="475.38" y1="78.48" x2="477.98" y2="78.48" stroke="#231f20" stroke-width="1.0"/>
<line x1="479.43" y1="102.53" x2="479.43" y2="100.07" stroke="#3a3a3a" stroke-width="0.7"/>
<line x1="478.12" y1="100.07" x2="480.73" y2="100.07" stroke="#231f20" stroke-width="1.0"/>
<text x="480.13" y="166.00" font-size="7.35" text-anchor="end" fill="#231f20" stroke="#231f20" transform="rotate(-90 480.13 166.00)">EMA</text>
<rect x="484.26" y="85.17" width="2.75" height="74.63" fill="#a2283c" />
<rect x="487.01" y="101.53" width="2.75" height="58.27" fill="#3e5b87" />
<line x1="485.64" y1="86.17" x2="485.64" y2="83.31" stroke="#3a3a3a" stroke-width="0.7"/>
<line x1="484.34" y1="83.31" x2="486.94" y2="83.31" stroke="#231f20" stroke-width="1.0"/>
<line x1="488.39" y1="102.53" x2="488.39" y2="98.75" stroke="#3a3a3a" stroke-width="0.7"/>
<line x1="487.09" y1="98.75" x2="489.69" y2="98.75" stroke="#231f20" stroke-width="1.0"/>
<text x="489.10" y="166.00" font-size="7.35" text-anchor="end" fill="#231f20" stroke="#231f20" transform="rotate(-90 489.10 166.00)">FoxO3a</text>
<rect x="493.23" y="80.86" width="2.75" height="78.94" fill="#a2283c" />
<rect x="495.98" y="97.42" width="2.75" height="62.38" fill="#3e5b87" />
<line x1="494.61" y1="81.86" x2="494.61" y2="75.23" stroke="#3a3a3a" stroke-width="0.7"/>
<line x1="493.31" y1="75.23" x2="495.91" y2="75.23" stroke="#231f20" stroke-width="1.0"/>
<line x1="497.36" y1="98.42" x2="497.36" y2="96.76" stroke="#3a3a3a" stroke-width="0.7"/>
<line x1="496.06" y1="96.76" x2="498.66" y2="96.76" stroke="#231f20" stroke-width="1.0"/>
<text x="498.06" y="166.00" font-size="7.35" text-anchor="end" fill="#231f20" stroke="#231f20" transform="rotate(-90 498.06 166.00)">Rb_pS807_S811</text>
<rect x="502.19" y="78.08" width="2.75" height="81.72" fill="#a2283c" />
<rect x="504.94" y="95.17" width="2.75" height="64.63" fill="#3e5b87" />
<line x1="503.57" y1="79.08" x2="503.57" y2="56.68" stroke="#3a3a3a" stroke-width="0.7"/>
<line x1="502.27" y1="56.68" x2="504.87" y2="56.68" stroke="#231f20" stroke-width="1.0"/>
<line x1="506.32" y1="96.17" x2="506.32" y2="94.77" stroke="#3a3a3a" stroke-width="0.7"/>
<line x1="505.02" y1="94.77" x2="507.62" y2="94.77" stroke="#231f20" stroke-width="1.0"/>
<text x="507.03" y="166.00" font-size="7.35" text-anchor="end" fill="#231f20" stroke="#231f20" transform="rotate(-90 507.03 166.00)">B7-H4</text>
<rect x="200.20" y="29.40" width="3.30" height="3.40" fill="#a2283c" />
<text x="208.00" y="34.40" font-size="8.6" text-anchor="start" fill="#231f20" stroke="#231f20" textLength="49.30" lengthAdjust="spacingAndGlyphs" >MM1.5 Control</text>
<rect x="273.70" y="29.40" width="3.30" height="3.40" fill="#3e5b87" />
<text x="282.00" y="34.40" font-size="8.6" text-anchor="start" fill="#231f20" stroke="#231f20" textLength="49.00" lengthAdjust="spacingAndGlyphs" >MM1.5 Treated</text>
<text x="9.50" y="280.60" font-size="11" text-anchor="start" fill="#231f20" stroke="#231f20" textLength="5.80" lengthAdjust="spacingAndGlyphs" >B</text>
<text x="91.00" y="277.40" font-size="8.0" text-anchor="start" fill="#231f20" stroke="#231f20" textLength="23.40" lengthAdjust="spacingAndGlyphs" >MM1.5</text>
<line x1="91.00" y1="278.60" x2="114.40" y2="278.60" stroke="#231f20" stroke-width="0.7"/>
<text x="44.00" y="288.60" font-size="7.0" text-anchor="middle" fill="#231f20" stroke="#231f20" >0</text>
<text x="58.50" y="288.60" font-size="7.0" text-anchor="middle" fill="#231f20" stroke="#231f20" >5</text>
<text x="73.30" y="288.60" font-size="7.0" text-anchor="middle" fill="#231f20" stroke="#231f20" >10</text>
<text x="87.80" y="288.60" font-size="7.0" text-anchor="middle" fill="#231f20" stroke="#231f20" >25</text>
<text x="102.30" y="288.60" font-size="7.0" text-anchor="middle" fill="#231f20" stroke="#231f20" >50</text>
<text x="147.20" y="288.60" font-size="7.0" text-anchor="middle" fill="#231f20" stroke="#231f20" >25</text>
<text x="161.80" y="288.60" font-size="7.0" text-anchor="middle" fill="#231f20" stroke="#231f20" >50</text>
<text x="116.70" y="300.20" font-size="7.0" text-anchor="middle" fill="#231f20" stroke="#231f20" >5</text>
<text x="131.50" y="300.20" font-size="7.0" text-anchor="middle" fill="#231f20" stroke="#231f20" >10</text>
<text x="147.20" y="311.30" font-size="7.0" text-anchor="middle" fill="#231f20" stroke="#231f20" >20</text>
<text x="161.80" y="311.30" font-size="7.0" text-anchor="middle" fill="#231f20" stroke="#231f20" >20</text>
<text x="173.00" y="287.30" font-size="8.0" text-anchor="start" fill="#231f20" stroke="#231f20" textLength="44.80" lengthAdjust="spacingAndGlyphs" >TAK-243 (nM)</text>
<text x="173.00" y="298.90" font-size="8.0" text-anchor="start" fill="#231f20" stroke="#231f20" textLength="29.60" lengthAdjust="spacingAndGlyphs" >BTZ (nM)</text>
<text x="173.00" y="310.30" font-size="8.0" text-anchor="start" fill="#231f20" stroke="#231f20" textLength="56.00" lengthAdjust="spacingAndGlyphs" >Z-VAD-FMK (µM)</text>
<defs><filter id="bl" x="-30%" y="-60%" width="160%" height="220%"><feGaussianBlur stdDeviation="0.75"/></filter><filter id="bl2" x="-10%" y="-30%" width="120%" height="160%"><feGaussianBlur stdDeviation="0.5"/></filter><filter id="bl3" x="-30%" y="-80%" width="160%" height="260%"><feGaussianBlur stdDeviation="1.2"/></filter></defs>
<rect x="35.80" y="316.30" width="133.60" height="13.50" fill="#dedede" filter="url(#bl2)"/>
<rect x="35.80" y="332.00" width="133.60" height="13.30" fill="#dedede" filter="url(#bl2)"/>
<rect x="35.80" y="347.90" width="133.60" height="13.60" fill="#dedede" filter="url(#bl2)"/>
<text x="10.60" y="327.30" font-size="8.2" text-anchor="start" fill="#231f20" stroke="#231f20" textLength="20.90" lengthAdjust="spacingAndGlyphs" >MCL-1</text>
<text x="10.60" y="342.90" font-size="8.2" text-anchor="start" fill="#231f20" stroke="#231f20" textLength="21.80" lengthAdjust="spacingAndGlyphs" >c-MYC</text>
<text x="8.60" y="357.60" font-size="8.2" text-anchor="start" fill="#231f20" stroke="#231f20" textLength="23.80" lengthAdjust="spacingAndGlyphs" >β-actin</text>
<rect x="36.70" y="319.10" width="12.90" height="6.60" rx="3.70" ry="3.30" fill="#141414" opacity="0.35" filter="url(#bl3)"/>
<rect x="37.90" y="320.30" width="10.50" height="4.20" rx="2.50" ry="2.10" fill="#141414" filter="url(#bl)"/>
<rect x="51.30" y="319.30" width="12.50" height="6.10" rx="3.70" ry="3.05" fill="#141414" opacity="0.35" filter="url(#bl3)"/>
<rect x="52.50" y="320.50" width="10.10" height="3.70" rx="2.50" ry="1.85" fill="#141414" filter="url(#bl)"/>
<rect x="66.60" y="318.60" width="12.30" height="6.10" rx="3.70" ry="3.05" fill="#141414" opacity="0.35" filter="url(#bl3)"/>
<rect x="67.80" y="319.80" width="9.90" height="3.70" rx="2.50" ry="1.85" fill="#141414" filter="url(#bl)"/>
<rect x="80.50" y="318.20" width="13.70" height="6.60" rx="3.70" ry="3.30" fill="#141414" opacity="0.35" filter="url(#bl3)"/>
<rect x="81.70" y="319.40" width="11.30" height="4.20" rx="2.50" ry="2.10" fill="#141414" filter="url(#bl)"/>
<rect x="94.40" y="315.70" width="15.20" height="12.30" rx="6.15" ry="6.15" fill="#141414" opacity="0.35" filter="url(#bl3)"/>
<rect x="95.60" y="316.90" width="12.80" height="9.90" rx="4.95" ry="4.95" fill="#141414" filter="url(#bl)"/>
<rect x="109.80" y="319.10" width="13.40" height="6.60" rx="3.70" ry="3.30" fill="#141414" opacity="0.35" filter="url(#bl3)"/>
<rect x="111.00" y="320.30" width="11.00" height="4.20" rx="2.50" ry="2.10" fill="#141414" filter="url(#bl)"/>
<rect x="123.90" y="317.60" width="14.40" height="10.40" rx="5.20" ry="5.20" fill="#141414" opacity="0.35" filter="url(#bl3)"/>
<rect x="125.10" y="318.80" width="12.00" height="8.00" rx="4.00" ry="4.00" fill="#141414" filter="url(#bl)"/>
<rect x="138.80" y="318.60" width="14.10" height="9.80" rx="4.90" ry="4.90" fill="#141414" opacity="0.35" filter="url(#bl3)"/>
<rect x="140.00" y="319.80" width="11.70" height="7.40" rx="3.70" ry="3.70" fill="#141414" filter="url(#bl)"/>
<rect x="152.40" y="316.20" width="15.90" height="13.20" rx="6.60" ry="6.60" fill="#141414" opacity="0.35" filter="url(#bl3)"/>
<rect x="153.60" y="317.40" width="13.50" height="10.80" rx="5.40" ry="5.40" fill="#141414" filter="url(#bl)"/>
<rect x="35.20" y="337.20" width="13.70" height="7.10" rx="3.70" ry="3.55" fill="#262626" opacity="0.35" filter="url(#bl3)"/>
<rect x="36.40" y="338.40" width="11.30" height="4.70" rx="2.50" ry="2.35" fill="#262626" filter="url(#bl)"/>
<rect x="50.30" y="336.70" width="13.20" height="6.90" rx="3.70" ry="3.45" fill="#2a2a2a" opacity="0.35" filter="url(#bl3)"/>
<rect x="51.50" y="337.90" width="10.80" height="4.50" rx="2.50" ry="2.25" fill="#2a2a2a" filter="url(#bl)"/>
<rect x="65.20" y="335.60" width="13.70" height="7.00" rx="3.70" ry="3.50" fill="#222" opacity="0.35" filter="url(#bl3)"/>
<rect x="66.40" y="336.80" width="11.30" height="4.60" rx="2.50" ry="2.30" fill="#222" filter="url(#bl)"/>
<rect x="80.00" y="334.30" width="14.20" height="8.60" rx="4.30" ry="4.30" fill="#141414" opacity="0.35" filter="url(#bl3)"/>
<rect x="81.20" y="335.50" width="11.80" height="6.20" rx="3.10" ry="3.10" fill="#141414" filter="url(#bl)"/>
<rect x="95.00" y="333.30" width="14.80" height="10.10" rx="5.05" ry="5.05" fill="#141414" opacity="0.35" filter="url(#bl3)"/>
<rect x="96.20" y="334.50" width="12.40" height="7.70" rx="3.85" ry="3.85" fill="#141414" filter="url(#bl)"/>
<rect x="110.70" y="334.60" width="13.30" height="6.60" rx="3.70" ry="3.30" fill="#8e8e8e" opacity="0.35" filter="url(#bl3)"/>
<rect x="111.90" y="335.80" width="10.90" height="4.20" rx="2.50" ry="2.10" fill="#8e8e8e" filter="url(#bl)"/>
<rect x="126.00" y="335.10" width="13.00" height="6.30" rx="3.70" ry="3.15" fill="#8e8e8e" opacity="0.35" filter="url(#bl3)"/>
<rect x="127.20" y="336.30" width="10.60" height="3.90" rx="2.50" ry="1.95" fill="#8e8e8e" filter="url(#bl)"/>
<rect x="140.70" y="333.30" width="13.70" height="9.30" rx="4.65" ry="4.65" fill="#141414" opacity="0.35" filter="url(#bl3)"/>
<rect x="141.90" y="334.50" width="11.30" height="6.90" rx="3.45" ry="3.45" fill="#141414" filter="url(#bl)"/>
<rect x="155.30" y="332.60" width="14.10" height="10.00" rx="5.00" ry="5.00" fill="#141414" opacity="0.35" filter="url(#bl3)"/>
<rect x="156.50" y="333.80" width="11.70" height="7.60" rx="3.80" ry="3.80" fill="#141414" filter="url(#bl)"/>
<rect x="36.70" y="351.50" width="14.30" height="8.40" rx="4.20" ry="4.20" fill="#141414" opacity="0.35" filter="url(#bl3)"/>
<rect x="37.90" y="352.70" width="11.90" height="6.00" rx="3.00" ry="3.00" fill="#141414" filter="url(#bl)"/>
<rect x="50.80" y="350.30" width="15.60" height="9.60" rx="4.80" ry="4.80" fill="#141414" opacity="0.35" filter="url(#bl3)"/>
<rect x="52.00" y="351.50" width="13.20" height="7.20" rx="3.60" ry="3.60" fill="#141414" filter="url(#bl)"/>
<rect x="65.00" y="350.10" width="16.80" height="10.30" rx="5.15" ry="5.15" fill="#141414" opacity="0.35" filter="url(#bl3)"/>
<rect x="66.20" y="351.30" width="14.40" height="7.90" rx="3.95" ry="3.95" fill="#141414" filter="url(#bl)"/>
<rect x="80.50" y="351.50" width="15.20" height="7.50" rx="3.75" ry="3.75" fill="#141414" opacity="0.35" filter="url(#bl3)"/>
<rect x="81.70" y="352.70" width="12.80" height="5.10" rx="2.55" ry="2.55" fill="#141414" filter="url(#bl)"/>
<rect x="94.70" y="350.40" width="15.60" height="8.60" rx="4.30" ry="4.30" fill="#141414" opacity="0.35" filter="url(#bl3)"/>
<rect x="95.90" y="351.60" width="13.20" height="6.20" rx="3.10" ry="3.10" fill="#141414" filter="url(#bl)"/>
<rect x="108.50" y="350.10" width="15.90" height="10.10" rx="5.05" ry="5.05" fill="#141414" opacity="0.35" filter="url(#bl3)"/>
<rect x="109.70" y="351.30" width="13.50" height="7.70" rx="3.85" ry="3.85" fill="#141414" filter="url(#bl)"/>
<rect x="122.70" y="350.10" width="15.60" height="10.10" rx="5.05" ry="5.05" fill="#141414" opacity="0.35" filter="url(#bl3)"/>
<rect x="123.90" y="351.30" width="13.20" height="7.70" rx="3.85" ry="3.85" fill="#141414" filter="url(#bl)"/>
<rect x="137.30" y="350.10" width="14.90" height="10.10" rx="5.05" ry="5.05" fill="#141414" opacity="0.35" filter="url(#bl3)"/>
<rect x="138.50" y="351.30" width="12.50" height="7.70" rx="3.85" ry="3.85" fill="#141414" filter="url(#bl)"/>
<path d="M155.5,352.8 L160.5,353.0 L163.8,351.2 L165.4,351.8 L165.0,356.5 L162.8,358.8 L155.5,359.0 Q152.6,358.8 152.6,356 Q152.6,352.8 155.5,352.8 Z" fill="#141414" opacity="0.35" stroke="#141414" stroke-width="2.4" filter="url(#bl3)"/>
<path d="M155.5,352.8 L160.5,353.0 L163.8,351.2 L165.4,351.8 L165.0,356.5 L162.8,358.8 L155.5,359.0 Q152.6,358.8 152.6,356 Q152.6,352.8 155.5,352.8 Z" fill="#141414" filter="url(#bl)"/>
<line x1="39.50" y1="374.20" x2="39.50" y2="473.00" stroke="#231f20" stroke-width="1"/>
<line x1="36.50" y1="473.30" x2="39.50" y2="473.30" stroke="#231f20" stroke-width="0.9"/>
<text x="33.40" y="476.10" font-size="8.0" text-anchor="end" fill="#231f20" stroke="#231f20" >0</text>
<line x1="36.50" y1="441.20" x2="39.50" y2="441.20" stroke="#231f20" stroke-width="0.9"/>
<text x="33.40" y="444.00" font-size="8.0" text-anchor="end" fill="#231f20" stroke="#231f20" >1</text>
<line x1="36.50" y1="409.10" x2="39.50" y2="409.10" stroke="#231f20" stroke-width="0.9"/>
<text x="33.40" y="411.90" font-size="8.0" text-anchor="end" fill="#231f20" stroke="#231f20" >2</text>
<line x1="36.50" y1="377.00" x2="39.50" y2="377.00" stroke="#231f20" stroke-width="0.9"/>
<text x="33.40" y="379.80" font-size="8.0" text-anchor="end" fill="#231f20" stroke="#231f20" >3</text>
<line x1="39.00" y1="472.70" x2="183.70" y2="472.70" stroke="#231f20" stroke-width="1"/>
<line x1="48.50" y1="472.70" x2="48.50" y2="475.50" stroke="#231f20" stroke-width="0.8"/>
<line x1="69.45" y1="472.70" x2="69.45" y2="475.50" stroke="#231f20" stroke-width="0.8"/>
<line x1="90.40" y1="472.70" x2="90.40" y2="475.50" stroke="#231f20" stroke-width="0.8"/>
<line x1="111.35" y1="472.70" x2="111.35" y2="475.50" stroke="#231f20" stroke-width="0.8"/>
<line x1="132.30" y1="472.70" x2="132.30" y2="475.50" stroke="#231f20" stroke-width="0.8"/>
<line x1="153.25" y1="472.70" x2="153.25" y2="475.50" stroke="#231f20" stroke-width="0.8"/>
<line x1="174.20" y1="472.70" x2="174.20" y2="475.50" stroke="#231f20" stroke-width="0.8"/>
<text x="24.90" y="423.70" font-size="9.8" text-anchor="middle" fill="#231f20" stroke="#231f20" transform="rotate(-90 24.90 423.70)" textLength="82.00" lengthAdjust="spacingAndGlyphs">Relative fold change</text>
<rect x="42.00" y="378.50" width="10.50" height="5.00" fill="#a2283c" />
<text x="54.90" y="383.40" font-size="8.0" text-anchor="start" fill="#231f20" stroke="#231f20" textLength="17.70" lengthAdjust="spacingAndGlyphs" ><tspan font-style="italic">MCL1</tspan></text>
<rect x="42.00" y="389.90" width="10.50" height="5.10" fill="#3e5b87" />
<text x="54.90" y="395.10" font-size="8.0" text-anchor="start" fill="#231f20" stroke="#231f20" textLength="19.40" lengthAdjust="spacingAndGlyphs" ><tspan font-style="italic">c-Myc</tspan></text>
<rect x="42.20" y="441.20" width="5.30" height="31.60" fill="#a2283c" />
<rect x="50.00" y="441.20" width="4.90" height="31.60" fill="#3e5b87" />
<rect x="63.15" y="429.97" width="5.30" height="42.83" fill="#a2283c" />
<rect x="70.95" y="439.60" width="4.90" height="33.20" fill="#3e5b87" />
<line x1="65.80" y1="429.97" x2="65.80" y2="427.08" stroke="#231f20" stroke-width="0.8"/>
<line x1="64.20" y1="427.08" x2="67.40" y2="427.08" stroke="#231f20" stroke-width="0.9"/>
<text x="65.80" y="426.68" font-size="6.5" text-anchor="middle" fill="#231f20" stroke="#231f20" >*</text>
<line x1="73.40" y1="439.60" x2="73.40" y2="439.27" stroke="#231f20" stroke-width="0.8"/>
<line x1="71.80" y1="439.27" x2="75.00" y2="439.27" stroke="#231f20" stroke-width="0.9"/>
<rect x="84.10" y="431.57" width="5.30" height="41.23" fill="#a2283c" />
<rect x="91.90" y="397.54" width="4.90" height="75.26" fill="#3e5b87" />
<line x1="86.75" y1="431.57" x2="86.75" y2="428.04" stroke="#231f20" stroke-width="0.8"/>
<line x1="85.15" y1="428.04" x2="88.35" y2="428.04" stroke="#231f20" stroke-width="0.9"/>
<text x="86.75" y="427.64" font-size="6.5" text-anchor="middle" fill="#231f20" stroke="#231f20" >*</text>
<line x1="94.35" y1="397.54" x2="94.35" y2="394.33" stroke="#231f20" stroke-width="0.8"/>
<line x1="92.75" y1="394.33" x2="95.95" y2="394.33" stroke="#231f20" stroke-width="0.9"/>
<text x="94.35" y="393.93" font-size="6.5" text-anchor="middle" fill="#231f20" stroke="#231f20" >*</text>
<rect x="105.05" y="444.73" width="5.30" height="28.07" fill="#a2283c" />
<rect x="112.85" y="421.94" width="4.90" height="50.86" fill="#3e5b87" />
<line x1="107.70" y1="444.73" x2="107.70" y2="442.81" stroke="#231f20" stroke-width="0.8"/>
<line x1="106.10" y1="442.81" x2="109.30" y2="442.81" stroke="#231f20" stroke-width="0.9"/>
<line x1="115.30" y1="421.94" x2="115.30" y2="413.92" stroke="#231f20" stroke-width="0.8"/>
<line x1="113.70" y1="413.92" x2="116.90" y2="413.92" stroke="#231f20" stroke-width="0.9"/>
<text x="115.30" y="413.52" font-size="6.5" text-anchor="middle" fill="#231f20" stroke="#231f20" >*</text>
<rect x="126.00" y="465.92" width="5.30" height="6.88" fill="#a2283c" />
<rect x="133.80" y="466.88" width="4.90" height="5.92" fill="#3e5b87" />
<line x1="128.65" y1="465.92" x2="128.65" y2="465.60" stroke="#231f20" stroke-width="0.8"/>
<line x1="127.05" y1="465.60" x2="130.25" y2="465.60" stroke="#231f20" stroke-width="0.9"/>
<line x1="136.25" y1="466.88" x2="136.25" y2="466.56" stroke="#231f20" stroke-width="0.8"/>
<line x1="134.65" y1="466.56" x2="137.85" y2="466.56" stroke="#231f20" stroke-width="0.9"/>
<rect x="146.95" y="463.35" width="5.30" height="9.45" fill="#a2283c" />
<rect x="154.75" y="458.21" width="4.90" height="14.59" fill="#3e5b87" />
<line x1="149.60" y1="463.35" x2="149.60" y2="461.10" stroke="#231f20" stroke-width="0.8"/>
<line x1="148.00" y1="461.10" x2="151.20" y2="461.10" stroke="#231f20" stroke-width="0.9"/>
<line x1="157.20" y1="458.21" x2="157.20" y2="457.89" stroke="#231f20" stroke-width="0.8"/>
<line x1="155.60" y1="457.89" x2="158.80" y2="457.89" stroke="#231f20" stroke-width="0.9"/>
<rect x="167.90" y="392.09" width="5.30" height="80.71" fill="#a2283c" />
<rect x="175.70" y="410.06" width="4.90" height="62.74" fill="#3e5b87" />
<line x1="170.55" y1="392.09" x2="170.55" y2="390.16" stroke="#231f20" stroke-width="0.8"/>
<line x1="168.95" y1="390.16" x2="172.15" y2="390.16" stroke="#231f20" stroke-width="0.9"/>
<text x="170.55" y="389.76" font-size="6.5" text-anchor="middle" fill="#231f20" stroke="#231f20" >*</text>
<line x1="178.15" y1="410.06" x2="178.15" y2="402.68" stroke="#231f20" stroke-width="0.8"/>
<line x1="176.55" y1="402.68" x2="179.75" y2="402.68" stroke="#231f20" stroke-width="0.9"/>
<text x="178.15" y="402.28" font-size="6.5" text-anchor="middle" fill="#231f20" stroke="#231f20" >*</text>
<text x="48.50" y="486.00" font-size="7.9" text-anchor="middle" fill="#231f20" stroke="#231f20" >0</text>
<text x="69.45" y="486.00" font-size="7.9" text-anchor="middle" fill="#231f20" stroke="#231f20" >10</text>
<text x="90.40" y="486.00" font-size="7.9" text-anchor="middle" fill="#231f20" stroke="#231f20" >25</text>
<text x="111.35" y="486.00" font-size="7.9" text-anchor="middle" fill="#231f20" stroke="#231f20" >50</text>
<text x="132.30" y="486.00" font-size="7.9" text-anchor="middle" fill="#231f20" stroke="#231f20" >100</text>
<text x="153.25" y="486.00" font-size="7.9" text-anchor="middle" fill="#231f20" stroke="#231f20" >5</text>
<text x="174.20" y="486.00" font-size="7.9" text-anchor="middle" fill="#231f20" stroke="#231f20" >10</text>
<line x1="47.00" y1="490.80" x2="138.60" y2="490.80" stroke="#7a7a7a" stroke-width="1.1"/>
<line x1="150.30" y1="490.80" x2="179.30" y2="490.80" stroke="#7a7a7a" stroke-width="1.1"/>
<text x="66.10" y="502.50" font-size="9.0" text-anchor="start" fill="#231f20" stroke="#231f20" textLength="53.70" lengthAdjust="spacingAndGlyphs" >TAK-243 (nM)</text>
<text x="146.70" y="502.50" font-size="9.0" text-anchor="start" fill="#231f20" stroke="#231f20" textLength="36.90" lengthAdjust="spacingAndGlyphs" >BTZ (nM)</text>
<text x="248.20" y="280.20" font-size="10.6" text-anchor="start" fill="#231f20" stroke="#231f20" textLength="6.60" lengthAdjust="spacingAndGlyphs" >C</text>
<text x="271.70" y="293.30" font-size="7.8" text-anchor="start" fill="#231f20" stroke="#231f20" textLength="143.90" lengthAdjust="spacingAndGlyphs" >Analysis: MM1-ana-F- 2016-03-22 04:05 PM</text>
<rect x="273.40" y="301.80" width="3.80" height="3.40" fill="#a0283c" />
<text x="280.60" y="306.00" font-size="7.8" text-anchor="start" fill="#231f20" stroke="#231f20" textLength="49.00" lengthAdjust="spacingAndGlyphs" >positive z-score</text>
<rect x="341.80" y="301.30" width="3.20" height="3.30" fill="#c2d2a8" />
<text x="348.20" y="306.00" font-size="7.8" text-anchor="start" fill="#231f20" stroke="#231f20" textLength="33.70" lengthAdjust="spacingAndGlyphs" >z-score = 0</text>
<rect x="395.50" y="301.30" width="3.20" height="3.30" fill="#3f5f8e" />
<text x="402.10" y="306.00" font-size="7.8" text-anchor="start" fill="#231f20" stroke="#231f20" textLength="51.00" lengthAdjust="spacingAndGlyphs" >negative z-score</text>
<rect x="273.40" y="315.60" width="3.80" height="3.40" fill="#c9c5c9" />
<text x="280.60" y="319.60" font-size="7.8" text-anchor="start" fill="#231f20" stroke="#231f20" textLength="86.60" lengthAdjust="spacingAndGlyphs" >no activity pattern available</text>
<line x1="381.90" y1="317.30" x2="390.60" y2="317.30" stroke="#e2983a" stroke-width="0.9"/>
<rect x="384.60" y="315.60" width="3.40" height="3.40" fill="#e2983a" />
<text x="393.70" y="319.60" font-size="7.8" text-anchor="start" fill="#231f20" stroke="#231f20" textLength="15.90" lengthAdjust="spacingAndGlyphs" >Ratio</text>
<line x1="271.30" y1="325.80" x2="271.30" y2="391.50" stroke="#231f20" stroke-width="1"/>
<line x1="268.00" y1="391.50" x2="271.30" y2="391.50" stroke="#231f20" stroke-width="0.9"/>
<text x="264.40" y="394.30" font-size="8.0" text-anchor="end" fill="#231f20" stroke="#231f20" >0</text>
<line x1="268.00" y1="378.20" x2="271.30" y2="378.20" stroke="#231f20" stroke-width="0.9"/>
<text x="264.40" y="381.00" font-size="8.0" text-anchor="end" fill="#231f20" stroke="#231f20" >1</text>
<line x1="268.00" y1="364.90" x2="271.30" y2="364.90" stroke="#231f20" stroke-width="0.9"/>
<text x="264.40" y="367.70" font-size="8.0" text-anchor="end" fill="#231f20" stroke="#231f20" >2</text>
<line x1="268.00" y1="351.60" x2="271.30" y2="351.60" stroke="#231f20" stroke-width="0.9"/>
<text x="264.40" y="354.40" font-size="8.0" text-anchor="end" fill="#231f20" stroke="#231f20" >3</text>
<line x1="268.00" y1="338.30" x2="271.30" y2="338.30" stroke="#231f20" stroke-width="0.9"/>
<text x="264.40" y="341.10" font-size="8.0" text-anchor="end" fill="#231f20" stroke="#231f20" >4</text>
<text x="253.70" y="358.50" font-size="8.8" text-anchor="middle" fill="#231f20" stroke="#231f20" transform="rotate(-90 253.70 358.50)" textLength="52.50" lengthAdjust="spacingAndGlyphs">-log(p-value)</text>
<rect x="280.30" y="328.72" width="8.60" height="62.78" fill="#bdd0a6" />
<rect x="302.73" y="328.99" width="8.60" height="62.51" fill="#cf9585" />
<rect x="325.16" y="329.52" width="8.60" height="61.98" fill="#c8c2c8" />
<rect x="347.59" y="335.11" width="8.60" height="56.39" fill="#dedbe6" />
<rect x="370.02" y="335.11" width="8.60" height="56.39" fill="#b5b3cf" />
<rect x="392.45" y="336.31" width="8.60" height="55.19" fill="#3f5f8e" />
<rect x="414.88" y="337.37" width="8.60" height="54.13" fill="#cf9585" />
<rect x="437.31" y="337.37" width="8.60" height="54.13" fill="#eed9d9" />
<rect x="459.74" y="337.37" width="8.60" height="54.13" fill="#a0283c" />
<rect x="482.17" y="342.29" width="8.60" height="49.21" fill="#c8c3c8" />
<line x1="267.90" y1="391.50" x2="502.90" y2="391.50" stroke="#231f20" stroke-width="1"/>
<line x1="271.30" y1="374.20" x2="502.90" y2="374.20" stroke="#f0c088" stroke-width="0.9"/>
<text x="273.80" y="369.00" font-size="5.0" text-anchor="start" fill="#e39a45" stroke="#e39a45" textLength="22.10" lengthAdjust="spacingAndGlyphs" >Threshold</text>
<polyline fill="none" stroke="#e2983a" stroke-width="0.9" points="284.60,371.55 307.03,374.21 329.46,359.31 351.89,373.28 374.32,370.62 396.75,371.95 419.18,369.02 441.61,374.21 464.04,370.22 486.47,377.00 502.90,377.30"/>
<rect x="282.80" y="369.75" width="3.60" height="3.60" fill="#e2983a" />
<rect x="305.23" y="372.41" width="3.60" height="3.60" fill="#e2983a" />
<rect x="327.66" y="357.51" width="3.60" height="3.60" fill="#e2983a" />
<rect x="350.09" y="371.48" width="3.60" height="3.60" fill="#e2983a" />
<rect x="372.52" y="368.82" width="3.60" height="3.60" fill="#e2983a" />
<rect x="394.95" y="370.15" width="3.60" height="3.60" fill="#e2983a" />
<rect x="417.38" y="367.22" width="3.60" height="3.60" fill="#e2983a" />
<rect x="439.81" y="372.41" width="3.60" height="3.60" fill="#e2983a" />
<rect x="462.24" y="368.42" width="3.60" height="3.60" fill="#e2983a" />
<rect x="484.67" y="375.20" width="3.60" height="3.60" fill="#e2983a" />
<text x="287.20" y="394.60" font-size="7.9" text-anchor="end" fill="#231f20" stroke="#231f20" transform="rotate(-90 287.20 394.60)" textLength="46.90" lengthAdjust="spacingAndGlyphs">P53 Signaling</text>
<text x="305.43" y="394.60" font-size="7.9" text-anchor="end" fill="#231f20" stroke="#231f20" transform="rotate(-90 305.43 394.60)" textLength="87.30" lengthAdjust="spacingAndGlyphs">NRF2-mediated Oxidative</text>
<text x="313.93" y="394.60" font-size="7.9" text-anchor="end" fill="#231f20" stroke="#231f20" transform="rotate(-90 313.93 394.60)" textLength="54.30" lengthAdjust="spacingAndGlyphs">Stress Response</text>
<text x="327.86" y="394.60" font-size="7.9" text-anchor="end" fill="#231f20" stroke="#231f20" transform="rotate(-90 327.86 394.60)" textLength="111.00" lengthAdjust="spacingAndGlyphs">Super-pathway of D-myo-inositol</text>
<text x="336.36" y="394.60" font-size="7.9" text-anchor="end" fill="#231f20" stroke="#231f20" transform="rotate(-90 336.36 394.60)" textLength="109.30" lengthAdjust="spacingAndGlyphs">(1,4,5)-triphosphate Metabolism</text>
<text x="354.49" y="394.60" font-size="7.9" text-anchor="end" fill="#231f20" stroke="#231f20" transform="rotate(-90 354.49 394.60)" textLength="65.30" lengthAdjust="spacingAndGlyphs">PI3K/AKT Signaling</text>
<text x="372.72" y="394.60" font-size="7.9" text-anchor="end" fill="#231f20" stroke="#231f20" transform="rotate(-90 372.72 394.60)" textLength="73.30" lengthAdjust="spacingAndGlyphs">Role of BRCA1 in DNA</text>
<text x="381.22" y="394.60" font-size="7.9" text-anchor="end" fill="#231f20" stroke="#231f20" transform="rotate(-90 381.22 394.60)" textLength="63.00" lengthAdjust="spacingAndGlyphs">Damage Response</text>
<text x="399.35" y="394.60" font-size="7.9" text-anchor="end" fill="#231f20" stroke="#231f20" transform="rotate(-90 399.35 394.60)" textLength="86.10" lengthAdjust="spacingAndGlyphs">Death Receptor Signaling</text>
<text x="417.58" y="394.60" font-size="7.9" text-anchor="end" fill="#231f20" stroke="#231f20" transform="rotate(-90 417.58 394.60)" textLength="77.60" lengthAdjust="spacingAndGlyphs">Role of CHK Proteins in</text>
<text x="426.08" y="394.60" font-size="7.9" text-anchor="end" fill="#231f20" stroke="#231f20" transform="rotate(-90 426.08 394.60)" textLength="100.00" lengthAdjust="spacingAndGlyphs">Cell Cycle Checkpoint Control</text>
<text x="444.21" y="394.60" font-size="7.9" text-anchor="end" fill="#231f20" stroke="#231f20" transform="rotate(-90 444.21 394.60)" textLength="83.80" lengthAdjust="spacingAndGlyphs">B Cell Receptor Signaling</text>
<text x="462.44" y="394.60" font-size="7.9" text-anchor="end" fill="#231f20" stroke="#231f20" transform="rotate(-90 462.44 394.60)" textLength="82.20" lengthAdjust="spacingAndGlyphs">Hypoxia Signaling in the</text>
<text x="470.94" y="394.60" font-size="7.9" text-anchor="end" fill="#231f20" stroke="#231f20" transform="rotate(-90 470.94 394.60)" textLength="76.20" lengthAdjust="spacingAndGlyphs">Cardiovascular System</text>
<text x="489.07" y="394.60" font-size="7.9" text-anchor="end" fill="#231f20" stroke="#231f20" transform="rotate(-90 489.07 394.60)" textLength="88.50" lengthAdjust="spacingAndGlyphs">Protein Ubiquitin Pathway</text>
<rect x="0.00" y="0.00" width="520.00" height="1.40" fill="#454545" />
<rect x="0.00" y="0.00" width="1.30" height="522.00" fill="#454545" />
<rect x="518.20" y="0.00" width="1.80" height="522.00" fill="#3c3c3c" />
<rect x="0.00" y="520.80" width="520.00" height="1.20" fill="#151515" />
</svg></body></html>
